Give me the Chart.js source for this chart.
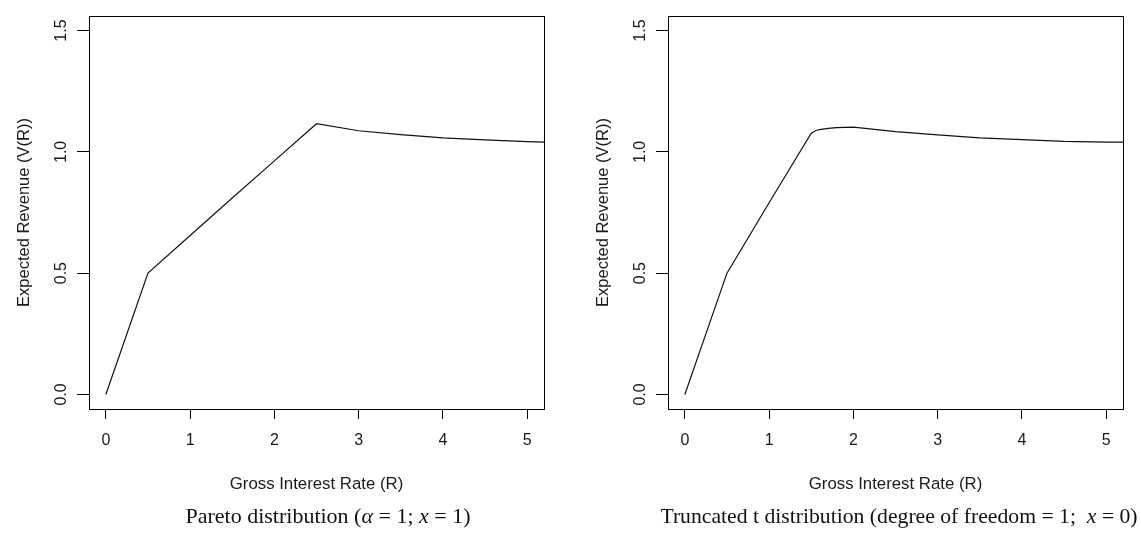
<!DOCTYPE html>
<html><head><meta charset="utf-8">
<script src="https://cdn.jsdelivr.net/npm/chart.js@4"></script>
<style>
html,body{margin:0;padding:0;background:#fff;}
body{width:1141px;height:533px;position:relative;overflow:hidden;}
.panel{position:absolute;top:0;height:533px;}
.cap{position:absolute;top:505px;font-family:"Liberation Serif","Times New Roman",serif;font-size:22px;line-height:22px;color:#111;white-space:nowrap;transform:translateX(-50%);}
</style></head>
<body>
<div class="panel" style="left:0;width:570px"><canvas id="c1" width="570" height="533"></canvas></div>
<div class="panel" style="left:579px;width:562px"><canvas id="c2" width="562" height="533"></canvas></div>
<div class="cap" style="left:328px">Pareto distribution (<i>α</i> = 1; <i>x</i> = 1)</div>
<div class="cap" style="left:899px;font-size:21.7px">Truncated t distribution (degree of freedom = 1;&nbsp; <i>x</i> = 0)</div>
<script>
// Left panel: Pareto distribution
const paretoRates   = [0, 0.5, 1, 1.5, 2, 2.5, 3, 3.5, 4, 4.5, 5, 5.2];
const paretoRevenue = [0, 0.5, 0.655, 0.81, 0.963, 1.116, 1.087, 1.071, 1.058, 1.049, 1.042, 1.040];
// Right panel: Truncated t distribution
const tRates   = [0, 0.5, 1, 1.5, 1.55, 1.6, 1.7, 1.8, 2, 2.25, 2.5, 3, 3.5, 4, 4.5, 5, 5.2];
const tRevenue = [0, 0.5, 0.79, 1.077, 1.087, 1.092, 1.097, 1.100, 1.102, 1.093, 1.083, 1.070, 1.058, 1.050, 1.043, 1.040, 1.040];
// Axes
const xTickValues = [0, 1, 2, 3, 4, 5];
const yTickValues = [0, 0.5, 1.0, 1.5];
const xTitle = 'Gross Interest Rate (R)';
const yTitle = 'Expected Revenue (V(R))';

Chart.defaults.font.family = "'Liberation Sans', Arial, sans-serif";
Chart.defaults.color = '#1a1a1a';

const boxPlugin = {
  id: 'box',
  afterDraw(chart) {
    const {ctx, chartArea: a} = chart;
    ctx.save();
    ctx.strokeStyle = '#000';
    ctx.lineWidth = 1;
    ctx.strokeRect(Math.round(a.left) + 0.5, Math.round(a.top) + 0.5, Math.round(a.width), Math.round(a.height));
    ctx.restore();
  }
};

function makeChart(id, xs, ys, rightPad) {
  const pts = xs.map((x, i) => ({x: x, y: ys[i]}));
  return new Chart(document.getElementById(id), {
    type: 'line',
    data: { datasets: [{ data: pts, borderColor: '#111', borderWidth: 1.2, pointRadius: 0, tension: 0, fill: false }] },
    options: {
      responsive: false,
      animation: false,
      devicePixelRatio: 1,
      layout: { padding: { left: 0, top: 16, right: rightPad, bottom: 24 } },
      plugins: { legend: { display: false }, tooltip: { enabled: false } },
      scales: {
        x: {
          type: 'linear', min: -0.2, max: 5.2,
          afterBuildTicks: s => { s.ticks = xTickValues.map(v => ({value: v})); },
          afterFit: s => { s.height = 100; s.paddingLeft = 0; s.paddingRight = 0; },
          ticks: { font: { size: 16 }, color: '#1a1a1a', padding: 12, maxRotation: 0, autoSkip: false, callback: v => String(v) },
          grid: { drawOnChartArea: false, drawTicks: true, tickLength: 10, color: '#000', tickColor: '#000', lineWidth: 1 },
          border: { display: true, color: '#000', width: 1 },
          title: { display: true, text: xTitle, font: { size: 16.8 }, color: '#1a1a1a', padding: { top: 0, bottom: 15 } }
        },
        y: {
          type: 'linear', min: -0.06, max: 1.56,
          afterBuildTicks: s => { s.ticks = yTickValues.map(v => ({value: v})); },
          afterFit: s => { s.width = 89; s.paddingTop = 0; s.paddingBottom = 0; },
          ticks: { font: { size: 16 }, color: '#1a1a1a', padding: 4.5, minRotation: 90, maxRotation: 90, crossAlign: 'center', autoSkip: false, callback: v => Number(v).toFixed(1) },
          grid: { drawOnChartArea: false, drawTicks: true, tickLength: 12, color: '#000', tickColor: '#000', lineWidth: 1 },
          border: { display: true, color: '#000', width: 1 },
          title: { display: true, text: yTitle, font: { size: 16.5 }, color: '#1a1a1a', padding: { top: 15, bottom: 0 } }
        }
      }
    },
    plugins: [boxPlugin]
  });
}

makeChart('c1', paretoRates, paretoRevenue, 26);
makeChart('c2', tRates, tRevenue, 18);
</script>
</body></html>
